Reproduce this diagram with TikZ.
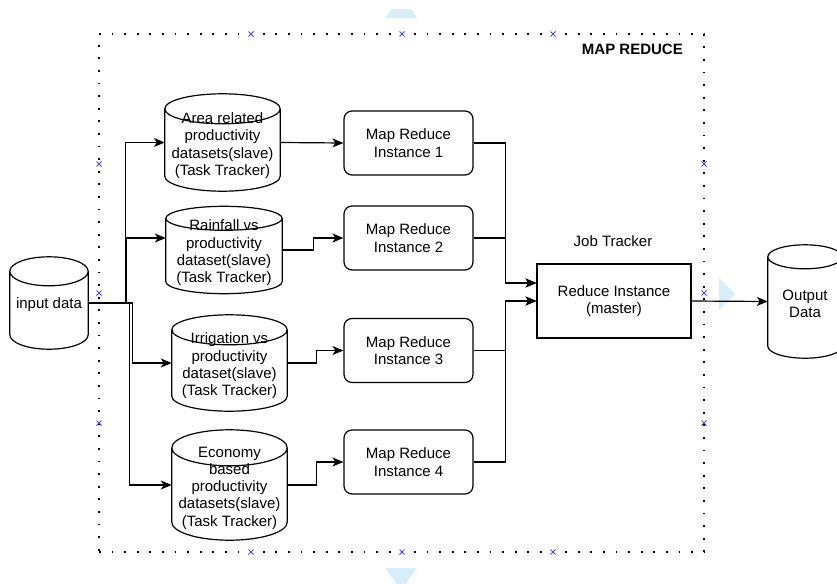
\documentclass[tikz,border=0pt]{standalone}
\usepackage{fontspec}
\setmainfont{Liberation Sans}
\usetikzlibrary{arrows.meta,calc}

\definecolor{hintblue}{RGB}{214,237,250}
\definecolor{markblue}{RGB}{70,70,255}

\tikzset{
  line/.style={draw=black, line width=1.2pt},
  arr/.style={line, -{Stealth[length=11pt,width=9pt,inset=3pt]}},
  txt/.style={font=\fontsize{15}{17.3}\selectfont, align=center, inner sep=0pt},
  cyl/.style={inner sep=0pt, minimum width=#1},
  mrbox/.style={txt, line, rounded corners=8pt, minimum width=129pt, minimum height=64pt},
  masterbox/.style={txt, line, minimum width=154pt, minimum height=74pt},
  mrframe/.style={draw=black, line width=1.8pt, dash pattern=on 1.8pt off 10.8pt},
  selmark/.style={draw=markblue, line width=0.8pt},
  hint/.style={fill=hintblue, draw=none},
}

% cylinder outline around a named node: #1 node name, #2 ellipse half height (pt)
\newcommand\drawcyl[2]{%
  \draw[line] let \p1=(#1.north west), \p2=(#1.south east), \n1={(\x2-\x1)/2} in
    (\x1,\y1-#2pt) -- (\x1,\y2+#2pt)
    arc[start angle=180, end angle=360, x radius=\n1, y radius=#2pt]
    -- (\x2,\y1-#2pt)
    (\x1/2+\x2/2,\y1-#2pt) ellipse[x radius=\n1, y radius=#2pt];%
}

\begin{document}
\begin{tikzpicture}[x=1pt, y=-1pt]
\useasboundingbox (0,0) rectangle (837,583);

% hover arrows around the container
\path[hint] (392,9) -- (411,9) -- (417,18) -- (385,18) -- cycle;
\path[hint] (385,568) -- (417,568) -- (401,590) -- cycle;
\path[hint] (719,278) -- (735,294) -- (719,310) -- cycle;

% MAP REDUCE container
\node[mrframe, minimum width=605pt, minimum height=518pt] (mr) at (401.5,293) {};
\node[txt, font=\fontsize{15}{17.3}\selectfont\bfseries, anchor=east] (mrlabel) at (683,49) {MAP REDUCE};

% selection handles on the container
\foreach \px/\py in {251/34, 402/34, 553/34, 251/552, 402/552, 553/552,
                     99/164, 99/293, 99/423, 704/164, 704/293, 704/423}
  \draw[selmark] (\px-2.5,\py-2.5) -- (\px+2.5,\py+2.5) (\px-2.5,\py+2.5) -- (\px+2.5,\py-2.5);

% data stores
\node[cyl=78pt, minimum height=92pt] (input) at (49,303) {};
\node[cyl=115pt, minimum height=97pt] (area) at (222.5,142.5) {};
\node[cyl=116pt, minimum height=87pt] (rain) at (224,250) {};
\node[cyl=115pt, minimum height=96pt] (irr) at (229.5,363) {};
\node[cyl=115pt, minimum height=110pt] (eco) at (229.5,485) {};
\node[cyl=74pt, minimum height=113pt] (output) at (805,301.5) {};

\drawcyl{input}{14.5}
\drawcyl{area}{15}
\drawcyl{rain}{12}
\drawcyl{irr}{15}
\drawcyl{eco}{18}
\drawcyl{output}{12}

\node[txt] (inputtext) at ($(input)+(0,2)$) {input data};
\node[txt] (areatext) at ($(area)+(0,3)$)
  {Area related\\productivity\\datasets(slave)\\(Task Tracker)};
\node[txt] (raintext) at ($(rain)+(0,3)$)
  {Rainfall vs\\productivity\\dataset(slave)\\(Task Tracker)};
\node[txt] (irrtext) at ($(irr)+(0,3)$)
  {Irrigation vs\\productivity\\dataset(slave)\\(Task Tracker)};
\node[txt] (ecotext) at ($(eco)+(0,3)$)
  {Economy\\based\\productivity\\datasets(slave)\\(Task Tracker)};
\node[txt] (outputtext) at ($(output)+(0,2)$) {Output\\Data};

% map reduce instances
\node[mrbox] (box1) at (408.5,143) {Map Reduce\\Instance 1};
\node[mrbox] (box2) at (408.5,238) {Map Reduce\\Instance 2};
\node[mrbox] (box3) at (408.5,350.5) {Map Reduce\\Instance 3};
\node[mrbox] (box4) at (408.5,462) {Map Reduce\\Instance 4};

% master
\node[masterbox] (reduce) at (614,301) {Reduce Instance\\(master)};
\node[txt] (jobtracker) at (613,241) {Job Tracker};

% input data to the slaves
\draw[arr] (input.east) -| ($(area.west)+(-39,0)$) -- (area.west);
\draw[arr] (input.east) -| ($(rain.west)+(-39,-12)$) -- ($(rain.west)+(0,-12)$);
\draw[arr] (input.east) -| ($(irr.west)+(-39,0)$) -- (irr.west);
\draw[arr] (input.east) -| ($(eco.west)+(-42,0)$) -- (eco.west);

% slaves to map reduce instances
\draw[arr] (area.east) -- (box1.west);
\draw[arr] (rain.east) -- ++(31,0) |- (box2.west);
\draw[arr] (irr.east) -- ++(29,0) |- (box3.west);
\draw[arr] (eco.east) -- ++(29,0) |- (box4.west);

% instances to the master
\draw[arr] (box1.east) -- ++(32,0) |- ($(reduce.west)+(0,-18)$);
\draw[arr] (box2.east) -- ++(32,0) |- ($(reduce.west)+(0,-18)$);
\draw[arr] (box3.east) -- ++(32,0) |- (reduce.west);
\draw[arr] (box4.east) -- ++(32,0) |- (reduce.west);

% master to output
\draw[arr] (reduce.east) -- (output.west);
\end{tikzpicture}
\end{document}
